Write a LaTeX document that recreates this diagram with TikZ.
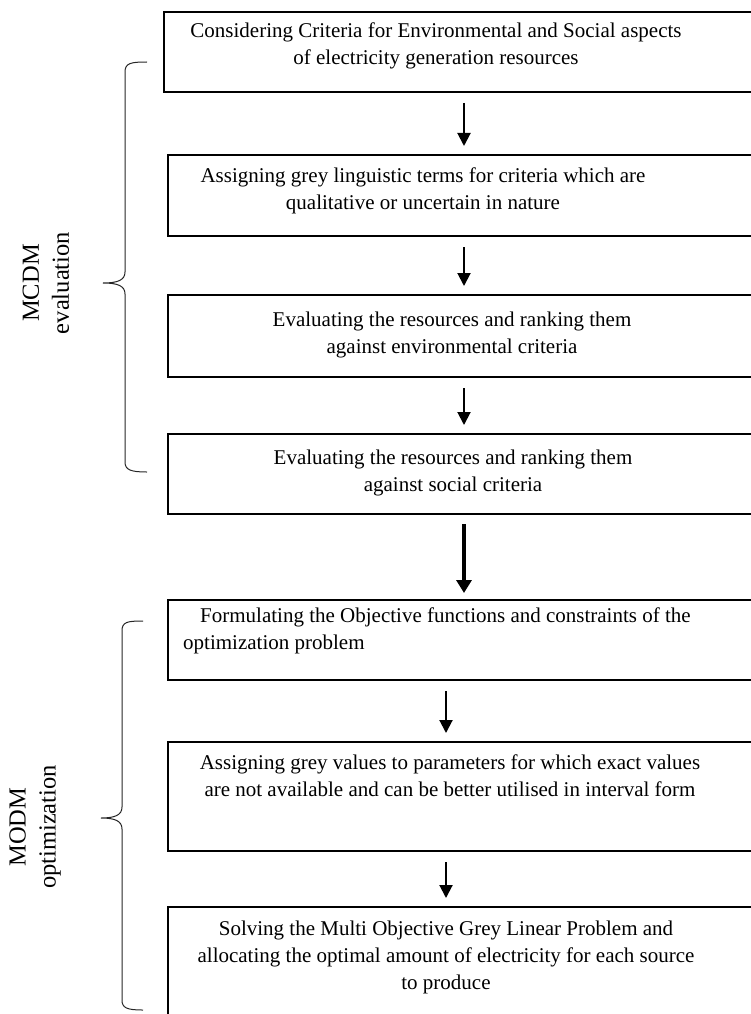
\documentclass[tikz,border=0pt]{standalone}
\usepackage{fontspec}
\setmainfont{Liberation Serif}
\usetikzlibrary{arrows.meta}

\begin{document}
\begin{tikzpicture}[x=1pt,y=-1pt,
            box/.style={draw,line width=2pt,minimum width=640pt,anchor=north west,inner sep=0pt},
            txt/.style={align=center,anchor=north,inner sep=0pt,font=\fontsize{21}{27}\selectfont},
            flow/.style={line width=2pt,-{Triangle[width=13pt,length=13pt]},shorten <=10pt,shorten >=8pt},
            bigflow/.style={line width=4pt,-{Triangle[width=15pt,length=13pt]},shorten <=9pt,shorten >=6pt},
            brace/.style={line width=1pt,black!85},
            side/.style={rotate=90,align=center,inner sep=0pt,font=\fontsize{24.5}{30}\selectfont}]
            \useasboundingbox (0,0) rectangle (751,1014);
            \clip (0,0) rectangle (751,1014);

            % Boxes
            \node[box,minimum height=80pt]  (b1) at (163,11)  {};
            \node[box,minimum height=81pt]  (b2) at (167,154) {};
            \node[box,minimum height=82pt]  (b3) at (167,294) {};
            \node[box,minimum height=80pt]  (b4) at (167,433) {};
            \node[box,minimum height=80pt]  (b5) at (167,599) {};
            \node[box,minimum height=109pt] (b6) at (167,741) {};
            \node[box,minimum height=150pt] (b7) at (167,906) {};

            \node[txt] (t1) at (436,23)  {Considering Criteria for Environmental and Social aspects\\of electricity generation resources};
            \node[txt] (t2) at (423,168) {Assigning grey linguistic terms for criteria which are\\qualitative or uncertain in nature};
            \node[txt] (t3) at (452,312) {Evaluating the resources and ranking them\\against environmental criteria};
            \node[txt] (t4) at (453,450) {Evaluating the resources and ranking them\\against social criteria};
            \node[txt,align=left,anchor=north west] (t5) at (183,608) {\hspace*{17pt}Formulating the Objective functions and constraints of the\\optimization problem};
            \node[txt] (t6) at (450,755) {Assigning grey values to parameters for which exact values\\are not available and can be better utilised in interval form};
            \node[txt] (t7) at (446,921) {Solving the Multi Objective Grey Linear Problem and\\allocating the optimal amount of electricity for each source\\to produce};

            % Arrows
            \coordinate (ax) at (464,0);
            \coordinate (bx) at (446,0);
            \draw[flow] (b1.south -| ax) -- (b2.north -| ax);
            \draw[flow] (b2.south -| ax) -- (b3.north -| ax);
            \draw[flow] (b3.south -| ax) -- (b4.north -| ax);
            \draw[bigflow] (b4.south -| ax) -- (b5.north -| ax);
            \draw[flow] (b5.south -| bx) -- (b6.north -| bx);
            \draw[flow] (b6.south -| bx) -- (b7.north -| bx);

            % Braces
            \draw[brace] (147,62) .. controls (131,62) and (125,63) .. (125,72) -- (125,272)
                .. controls (125,280) and (118,283) .. (103,283)
                .. controls (118,283) and (125,286) .. (125,294) -- (125,462)
                .. controls (125,470) and (131,472) .. (147,472);
            \draw[brace] (143,621) .. controls (127,621) and (122,622) .. (122,631) -- (122,807)
                .. controls (122,815) and (115,818) .. (101,818)
                .. controls (115,818) and (122,821) .. (122,829) -- (122,1000)
                .. controls (122,1008) and (127,1010) .. (143,1010);

            \node[side] (l1) at (46,283) {MCDM\\evaluation};
            \node[side] (l2) at (35,827) {MODM\\optimization};
    \end{tikzpicture}
\end{document}
